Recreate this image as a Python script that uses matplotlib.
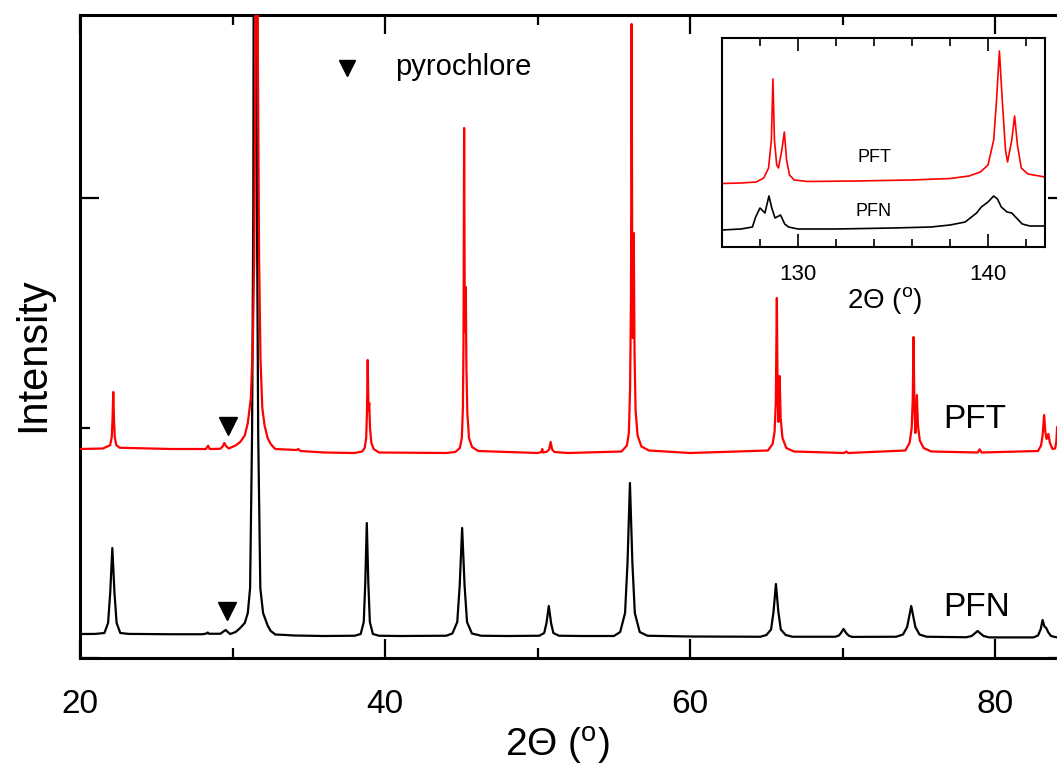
import matplotlib
matplotlib.use('Agg')
import matplotlib.pyplot as plt
from matplotlib.ticker import FixedLocator

plt.rcParams['font.family'] = ['Liberation Sans', 'DejaVu Sans']
plt.rcParams['mathtext.fontset'] = 'custom'
plt.rcParams['mathtext.rm'] = 'Liberation Sans'
plt.rcParams['mathtext.it'] = 'Liberation Sans:italic'

# ---------------- main pattern data (2theta in deg, intensity in counts) ----------------
pfn_2theta = [20.0, 21.0, 21.6, 21.84, 21.98, 22.12, 22.26, 22.40, 22.64, 23.2, 26.0,
              28.0, 28.3, 28.37, 28.45, 29.2, 29.45, 29.55, 29.65, 29.85, 30.2, 30.5, 30.8, 31.0,
              31.15, 31.28, 31.36, 31.48, 31.6, 31.68, 31.82, 32.0, 32.3, 32.5, 32.64, 32.8, 33.5,
              34.0, 36.0, 38.0, 38.4, 38.6, 38.7, 38.8, 38.9, 39.0, 39.2, 39.6, 41.0,
              44.0, 44.41, 44.73, 44.89, 45.05, 45.21, 45.37, 45.69, 46.3, 48.0, 50.1, 50.43,
              50.58, 50.73, 50.88, 51.03, 51.4, 53.0, 55.0, 55.41, 55.73, 55.89, 56.05, 56.21,
              56.37, 56.69, 57.2, 60.0, 64.6, 65.0, 65.3, 65.46, 65.62, 65.78, 65.94, 66.26,
              66.7, 69.5, 69.75, 69.88, 70.05, 70.22, 70.38, 70.6, 73.5, 73.95, 74.22, 74.35,
              74.49, 74.63, 74.76, 75.03, 75.5, 78.1, 78.45, 78.65, 78.84, 79.03, 79.23, 79.6,
              82.5, 82.8, 82.98, 83.1, 83.22, 83.34, 83.46, 83.65, 84.0, 84.7]
pfn_intensity = [480, 482, 500, 700, 1300, 2200, 1300, 700, 500, 482, 475,
                 475, 490, 510, 485, 485, 540, 560, 530, 480, 520, 600, 700, 900,
                 1400, 4500, 9000, 30000, 9000, 4500, 1400, 900, 650, 540, 510, 470, 460,
                 450, 440, 445, 480, 720, 1500, 2700, 1500, 720, 480, 445, 440,
                 445, 490, 720, 1450, 2600, 1450, 720, 490, 445, 440, 445, 500,
                 700, 1040, 700, 500, 445, 440, 440, 520, 900, 1900, 3500, 1900,
                 900, 520, 445, 430, 425, 460, 570, 920, 1480, 920, 570, 460,
                 425, 425, 450, 500, 580, 500, 450, 422, 425, 470, 620, 820,
                 1040, 820, 620, 470, 425, 415, 440, 490, 540, 490, 440, 412,
                 412, 450, 580, 760, 630, 600, 520, 440, 415, 400]

pft_2theta = [20.0, 21.5, 21.98, 22.08, 22.13, 22.18, 22.23, 22.28, 22.38, 22.6, 26.0, 28.25, 28.4,
              28.5, 29.2, 29.35, 29.46, 29.57, 29.75, 30.2, 30.5, 30.8, 31.0, 31.2, 31.33, 31.42,
              31.5, 31.58, 31.66, 31.74, 31.83, 31.95, 32.1, 32.3, 32.5, 32.64, 32.8, 34.2, 34.3,
              34.45, 36.0, 38.0, 38.5, 38.66, 38.76, 38.81, 38.86, 38.91, 38.96, 39.01, 39.1,
              39.25, 39.6, 44.0, 44.6, 44.9, 45.03, 45.1, 45.14, 45.18, 45.22, 45.25, 45.29,
              45.33, 45.39, 45.5, 45.7, 46.1, 50.0, 50.25, 50.3, 50.35, 50.6, 50.75, 50.85,
              50.95, 51.1, 52.0, 55.5, 55.85, 55.98, 56.06, 56.12, 56.16, 56.2, 56.24, 56.3,
              56.35, 56.42, 56.55, 56.8, 57.3, 60.0, 65.1, 65.4, 65.53, 65.61, 65.68, 65.73,
              65.78, 65.86, 65.93, 66.05, 66.3, 66.8, 70.1, 70.23, 70.35, 74.1, 74.38, 74.52,
              74.59, 74.64, 74.7, 74.76, 74.86, 74.93, 75.05, 75.3, 75.8, 78.85, 78.97, 79.1,
              82.8, 83.0, 83.1, 83.2, 83.28, 83.36, 83.48, 83.58, 83.75, 83.92, 84.0, 84.05,
              84.12, 84.3, 84.7]
pft_intensity = [4180, 4190, 4257, 4416, 4755, 5320, 4755, 4416, 4257, 4205, 4180, 4180, 4246,
                 4180, 4185, 4230, 4300, 4240, 4190, 4250, 4320, 4450, 4700, 5200, 6300, 8000,
                 12000, 30000, 12000, 8000, 6000, 5000, 4650, 4400, 4280, 4230, 4180, 4160, 4180,
                 4140, 4110, 4100, 4130, 4200, 4400, 4900, 5960, 4950, 5100, 4600, 4300,
                 4180, 4110, 4100, 4120, 4200, 4400, 5000, 6300, 10600, 7000, 6520, 7420,
                 5800, 4900, 4400, 4220, 4140, 4100, 4120, 4180, 4110, 4125, 4170, 4320,
                 4170, 4120, 4100, 4130, 4250, 4500, 5400, 7300, 12680, 8000, 6400, 8500,
                 6100, 4950, 4450, 4230, 4150, 4100, 4150, 4280, 4520, 5100, 7200, 5300,
                 4720, 5640, 4800, 4400, 4200, 4130, 4100, 4130, 4100, 4150, 4300, 4600,
                 5200, 6420, 5000, 4500, 5260, 4650, 4350, 4200, 4130, 4110, 4174, 4110,
                 4140, 4250, 4450, 4860, 4520, 4380, 4480, 4300, 4180, 4190, 4320, 4620,
                 4300, 4150, 4130]

# pyrochlore marks: (2theta, intensity)
pyro_pft = (29.68, 4640)
pyro_pfn = (29.62, 940)
legend_marker = (37.5, 11800)

# ---------------- inset data (high-angle region) ----------------
inset_pft_2theta = [126.0, 127.0, 127.8, 128.2, 128.45, 128.6, 128.68, 128.76, 128.88, 128.97,
                    129.15, 129.28, 129.4, 129.55, 129.8, 130.5, 133.0, 136.0, 138.0, 139.0,
                    139.6, 140.0, 140.3, 140.45, 140.6, 140.75, 140.92, 141.03, 141.25, 141.4,
                    141.55, 141.75, 142.1, 143.0]
inset_pft_intensity = [635, 640, 650, 690, 790, 1070, 1680, 1070, 820, 790,
                       970, 1150, 870, 720, 670, 655, 660, 670, 685, 710,
                       750, 820, 1070, 1470, 1960, 1470, 970, 850, 1070, 1310,
                       1020, 790, 730, 700]
inset_pfn_2theta = [126.0, 127.0, 127.6, 127.77, 128.0, 128.26, 128.47, 128.62, 128.79, 129.08,
                    129.3, 129.5, 130.0, 132.0, 135.0, 137.0, 138.0, 138.8, 139.4, 139.65,
                    140.0, 140.3, 140.5, 140.7, 141.0, 141.25, 141.5, 141.8, 142.2, 143.0]
inset_pfn_intensity = [170, 180, 200, 300, 390, 340, 510, 390, 290, 320,
                       230, 200, 180, 180, 190, 200, 220, 250, 340, 400,
                       450, 510, 480, 400, 350, 340, 290, 230, 210, 210]

main_xticks = [20, 40, 60, 80]
main_xminor = [30, 50, 70]
inset_xticks = [130, 140]
inset_xminor = [128, 132, 134, 136, 138, 142]

# ---------------- figure ----------------
fig = plt.figure(figsize=(10.57, 7.65), dpi=100)
W, H = 1057.0, 765.0
ax = fig.add_axes([80 / W, 107 / H, (1067 - 80) / W, 643 / H])

ax.plot(pfn_2theta, pfn_intensity, color='black', lw=1.6, zorder=2)
ax.plot(pft_2theta, pft_intensity, color='red', lw=1.6, zorder=3)

ax.plot(*pyro_pft, marker='v', color='black', ms=13, ls='none', zorder=4)
ax.plot(*pyro_pfn, marker='v', color='black', ms=13, ls='none', zorder=4)
ax.plot(*legend_marker, marker='v', color='black', ms=12, ls='none', zorder=4)
ax.text(40.66, 11820, 'pyrochlore', fontsize=21, ha='left', va='center')
ax.text(76.6, 4760, 'PFT', fontsize=24, ha='left', va='center')
ax.text(76.6, 1000, 'PFN', fontsize=24, ha='left', va='center')

ax.set_xlim(20, 84.7)
ax.set_ylim(0, 12860)
ax.xaxis.set_major_locator(FixedLocator(main_xticks))
ax.xaxis.set_minor_locator(FixedLocator(main_xminor))
ax.yaxis.set_major_locator(FixedLocator([0, 9200]))
ax.yaxis.set_minor_locator(FixedLocator([4600]))
ax.tick_params(which='both', direction='in', top=True, right=True, width=1.6,
               labelleft=False, labelsize=24, pad=22)
ax.tick_params(which='major', length=13.7)
ax.tick_params(which='minor', length=7.2)
for s in ax.spines.values():
    s.set_linewidth(2.2)

ax.set_xlabel('2\u0398 ($\\mathregular{^o}$)', fontsize=28, va='center')
ax.xaxis.set_label_coords(0.484, -0.137)
ax.set_ylabel('Intensity', fontsize=30, va='center')
ax.yaxis.set_label_coords(-0.0474, 0.471)

# ---------------- inset ----------------
ax2 = fig.add_axes([722 / W, (765 - 247) / H, 323 / W, 209 / H])
ax2.set_facecolor('white')
ax2.plot(inset_pfn_2theta, inset_pfn_intensity, color='black', lw=1.2)
ax2.plot(inset_pft_2theta, inset_pft_intensity, color='red', lw=1.2)
ax2.text(134.0, 900, 'PFT', fontsize=13, ha='center', va='center')
ax2.text(134.0, 350, 'PFN', fontsize=13, ha='center', va='center')
ax2.set_xlim(126, 143)
ax2.set_ylim(0, 2090)
ax2.xaxis.set_major_locator(FixedLocator(inset_xticks))
ax2.xaxis.set_minor_locator(FixedLocator(inset_xminor))
ax2.set_yticks([])
ax2.tick_params(which='both', direction='in', top=True, width=1.2, labelsize=16, pad=12)
ax2.tick_params(which='major', length=9.4)
ax2.tick_params(which='minor', length=5.8)
for s in ax2.spines.values():
    s.set_linewidth(1.5)
ax2.set_xlabel('2\u0398 ($\\mathregular{^o}$)', fontsize=20, va='center')
ax2.xaxis.set_label_coords(0.505, -0.254)

fig.savefig('out.png', dpi=100)
